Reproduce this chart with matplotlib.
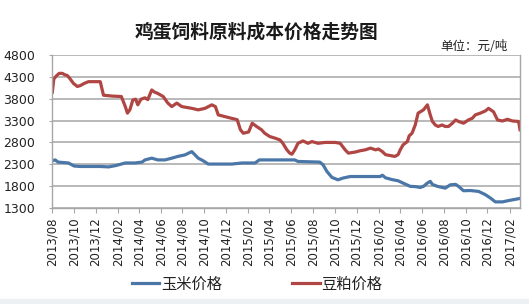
import pandas as pd
import matplotlib
matplotlib.use('Agg')
import matplotlib.pyplot as plt
import matplotlib.dates as mdates
import matplotlib.patches as mpatches

plt.rcParams['font.family'] = ['Noto Sans CJK SC', 'DejaVu Sans']

TITLE = '鸡蛋饲料原料成本价格走势图'
UNIT = '单位：元/吨'
CORN_LABEL = '玉米价格'
SOY_LABEL = '豆粕价格'

# 玉米价格 (元/吨)
corn_dates = [
    '2013-08-02', '2013-08-10', '2013-08-18', '2013-09-16', '2013-10-02',
    '2013-10-19', '2013-11-16', '2013-12-14', '2014-01-06', '2014-01-26',
    '2014-02-22', '2014-03-21', '2014-04-10', '2014-04-18', '2014-05-07',
    '2014-05-24', '2014-06-13', '2014-07-02', '2014-07-19', '2014-08-08',
    '2014-08-27', '2014-09-05', '2014-09-14', '2014-09-28', '2014-10-12',
    '2014-12-17', '2015-01-15', '2015-02-20', '2015-03-04', '2015-05-14',
    '2015-06-11', '2015-06-20', '2015-08-20', '2015-08-29', '2015-09-09',
    '2015-09-23', '2015-10-10', '2015-10-24', '2015-11-13', '2016-02-05',
    '2016-02-11', '2016-02-20', '2016-03-09', '2016-03-26', '2016-04-09',
    '2016-04-29', '2016-05-13', '2016-05-27', '2016-06-05', '2016-06-16',
    '2016-06-24', '2016-06-30', '2016-07-14', '2016-08-05', '2016-08-19',
    '2016-09-03', '2016-09-11', '2016-09-25', '2016-10-14', '2016-11-06',
    '2016-11-25', '2016-12-09', '2016-12-23', '2017-01-12', '2017-01-29',
    '2017-02-18', '2017-03-02',
]
corn_prices = [
    2380, 2400, 2350, 2330, 2260,
    2250, 2250, 2250, 2240, 2270,
    2330, 2330, 2350, 2400, 2440,
    2400, 2400, 2440, 2480, 2515,
    2590, 2515, 2440, 2380, 2305,
    2305, 2330, 2330, 2400, 2400,
    2400, 2365, 2350, 2290, 2135,
    2000, 1945, 1985, 2020, 2020,
    2050, 1990, 1950, 1923, 1870,
    1795, 1790, 1770, 1795, 1870,
    1910, 1840, 1795, 1755, 1830,
    1840, 1795, 1695, 1700, 1680,
    1605, 1530, 1440, 1440, 1470,
    1500, 1520,
]

# 豆粕价格 (元/吨)
soy_dates = [
    '2013-08-02', '2013-08-06', '2013-08-13', '2013-08-21', '2013-08-30',
    '2013-09-05', '2013-09-13', '2013-09-21', '2013-09-30', '2013-10-11',
    '2013-10-19', '2013-10-30', '2013-11-11', '2013-12-14', '2013-12-23',
    '2014-01-17', '2014-02-11', '2014-02-22', '2014-02-28', '2014-03-07',
    '2014-03-15', '2014-03-23', '2014-03-29', '2014-04-07', '2014-04-18',
    '2014-04-26', '2014-05-07', '2014-05-15', '2014-05-24', '2014-06-08',
    '2014-06-21', '2014-07-02', '2014-07-16', '2014-07-30', '2014-08-27',
    '2014-09-14', '2014-10-03', '2014-10-22', '2014-11-01', '2014-11-09',
    '2014-11-28', '2014-12-17', '2015-01-01', '2015-01-10', '2015-01-18',
    '2015-02-02', '2015-02-12', '2015-02-25', '2015-03-10', '2015-03-19',
    '2015-04-02', '2015-04-16', '2015-04-30', '2015-05-08', '2015-05-20',
    '2015-05-28', '2015-06-03', '2015-06-11', '2015-06-20', '2015-07-04',
    '2015-07-18', '2015-07-29', '2015-08-15', '2015-09-04', '2015-10-02',
    '2015-10-16', '2015-10-30', '2015-11-08', '2015-11-27', '2015-12-11',
    '2015-12-25', '2016-01-09', '2016-01-23', '2016-01-31', '2016-02-11',
    '2016-02-20', '2016-03-17', '2016-03-26', '2016-04-01', '2016-04-09',
    '2016-04-21', '2016-04-26', '2016-05-04', '2016-05-13', '2016-05-21',
    '2016-06-05', '2016-06-16', '2016-06-24', '2016-06-30', '2016-07-08',
    '2016-07-16', '2016-07-27', '2016-08-05', '2016-08-14', '2016-08-25',
    '2016-09-03', '2016-09-11', '2016-09-25', '2016-10-09', '2016-10-20',
    '2016-10-28', '2016-11-11', '2016-11-25', '2016-12-04', '2016-12-18',
    '2016-12-29', '2017-01-12', '2017-01-26', '2017-02-09', '2017-02-26',
    '2017-03-02',
]
soy_prices = [
    3950, 4250, 4320, 4380, 4380,
    4350, 4330, 4250, 4150, 4080,
    4100, 4150, 4190, 4190, 3880,
    3860, 3850, 3620, 3470, 3550,
    3770, 3790, 3660, 3790, 3820,
    3780, 4000, 3950, 3920, 3850,
    3700, 3620, 3700, 3620, 3580,
    3545, 3580, 3660, 3620, 3430,
    3390, 3350, 3320, 3090, 3010,
    3040, 3240, 3160, 3090, 3010,
    2935, 2900, 2860, 2790, 2630,
    2555, 2530, 2630, 2780, 2835,
    2780, 2820, 2780, 2800, 2800,
    2780, 2630, 2555, 2580, 2610,
    2630, 2670, 2630, 2650, 2590,
    2520, 2480, 2520, 2630, 2745,
    2820, 2950, 3010, 3200, 3470,
    3545, 3660, 3430, 3280, 3200,
    3165, 3200, 3165, 3165, 3240,
    3315, 3280, 3240, 3315, 3355,
    3430, 3470, 3520, 3580, 3500,
    3315, 3290, 3330, 3290, 3280,
    3090,
]

y_ticks = [1300, 1800, 2300, 2800, 3300, 3800, 4300, 4800]
x_start = '2013-08-01'
x_end = '2017-03-02'

CORN_COLOR = '#4A77A8'
SOY_COLOR = '#B04643'
GRID_COLOR = '#A6A6A6'

fig = plt.figure(figsize=(5.29, 3.04), dpi=100)
ax = fig.add_axes([52 / 529, 96 / 304, 468 / 529, 153 / 304])

corn_x = pd.to_datetime(corn_dates)
soy_x = pd.to_datetime(soy_dates)

h_corn, = ax.plot(corn_x, corn_prices, color=CORN_COLOR, lw=2.3,
                  solid_joinstyle='round', label=CORN_LABEL)
h_soy, = ax.plot(soy_x, soy_prices, color=SOY_COLOR, lw=2.3,
                 solid_joinstyle='round', label=SOY_LABEL)

ax.set_xlim(pd.Timestamp(x_start), pd.Timestamp(x_end))
ax.set_ylim(y_ticks[0], y_ticks[-1])
ax.set_yticks(y_ticks)

ax.xaxis.set_major_locator(mdates.MonthLocator(bymonth=[2, 4, 6, 8, 10, 12]))
ax.xaxis.set_major_formatter(mdates.DateFormatter('%Y/%m'))
for lbl in ax.get_xticklabels():
    lbl.set_rotation(90)
    lbl.set_family(['DejaVu Sans'])

ax.grid(axis='y', color=GRID_COLOR, lw=1.1)
ax.set_axisbelow(True)
for side in ['left', 'bottom', 'right']:
    ax.spines[side].set_color(GRID_COLOR)
    ax.spines[side].set_linewidth(1.0)
ax.spines['top'].set_visible(False)

ax.tick_params(axis='x', length=3.6, width=0.8, color=GRID_COLOR,
               labelsize=8.5, pad=3, labelcolor='#222222')
ax.tick_params(axis='y', length=2.2, width=0.8, color=GRID_COLOR,
               labelsize=9, pad=10, labelcolor='#222222')
for lbl in ax.get_yticklabels():
    lbl.set_family(['DejaVu Sans'])

fig.text(257 / 529, 1 - 32 / 304, TITLE, ha='center', va='center',
         fontsize=13.5, fontweight='bold', color='#1A1A1A')
fig.text(508 / 529, 1 - 47 / 304, UNIT, ha='right', va='center',
         fontsize=9, color='#222222')

fig.legend([h_corn, h_soy], [CORN_LABEL, SOY_LABEL], loc='center',
           bbox_to_anchor=(257 / 529, 1 - 284 / 304), ncol=2, frameon=False,
           fontsize=11, handlelength=1.8, handletextpad=0.1,
           columnspacing=4.6, labelcolor='#222222')

fig.patches.append(mpatches.Rectangle((0, 0), 1, 5 / 304,
                                      transform=fig.transFigure,
                                      color='#EEF1F3', zorder=-1))

fig.savefig('out.png', dpi=100, facecolor='white')
